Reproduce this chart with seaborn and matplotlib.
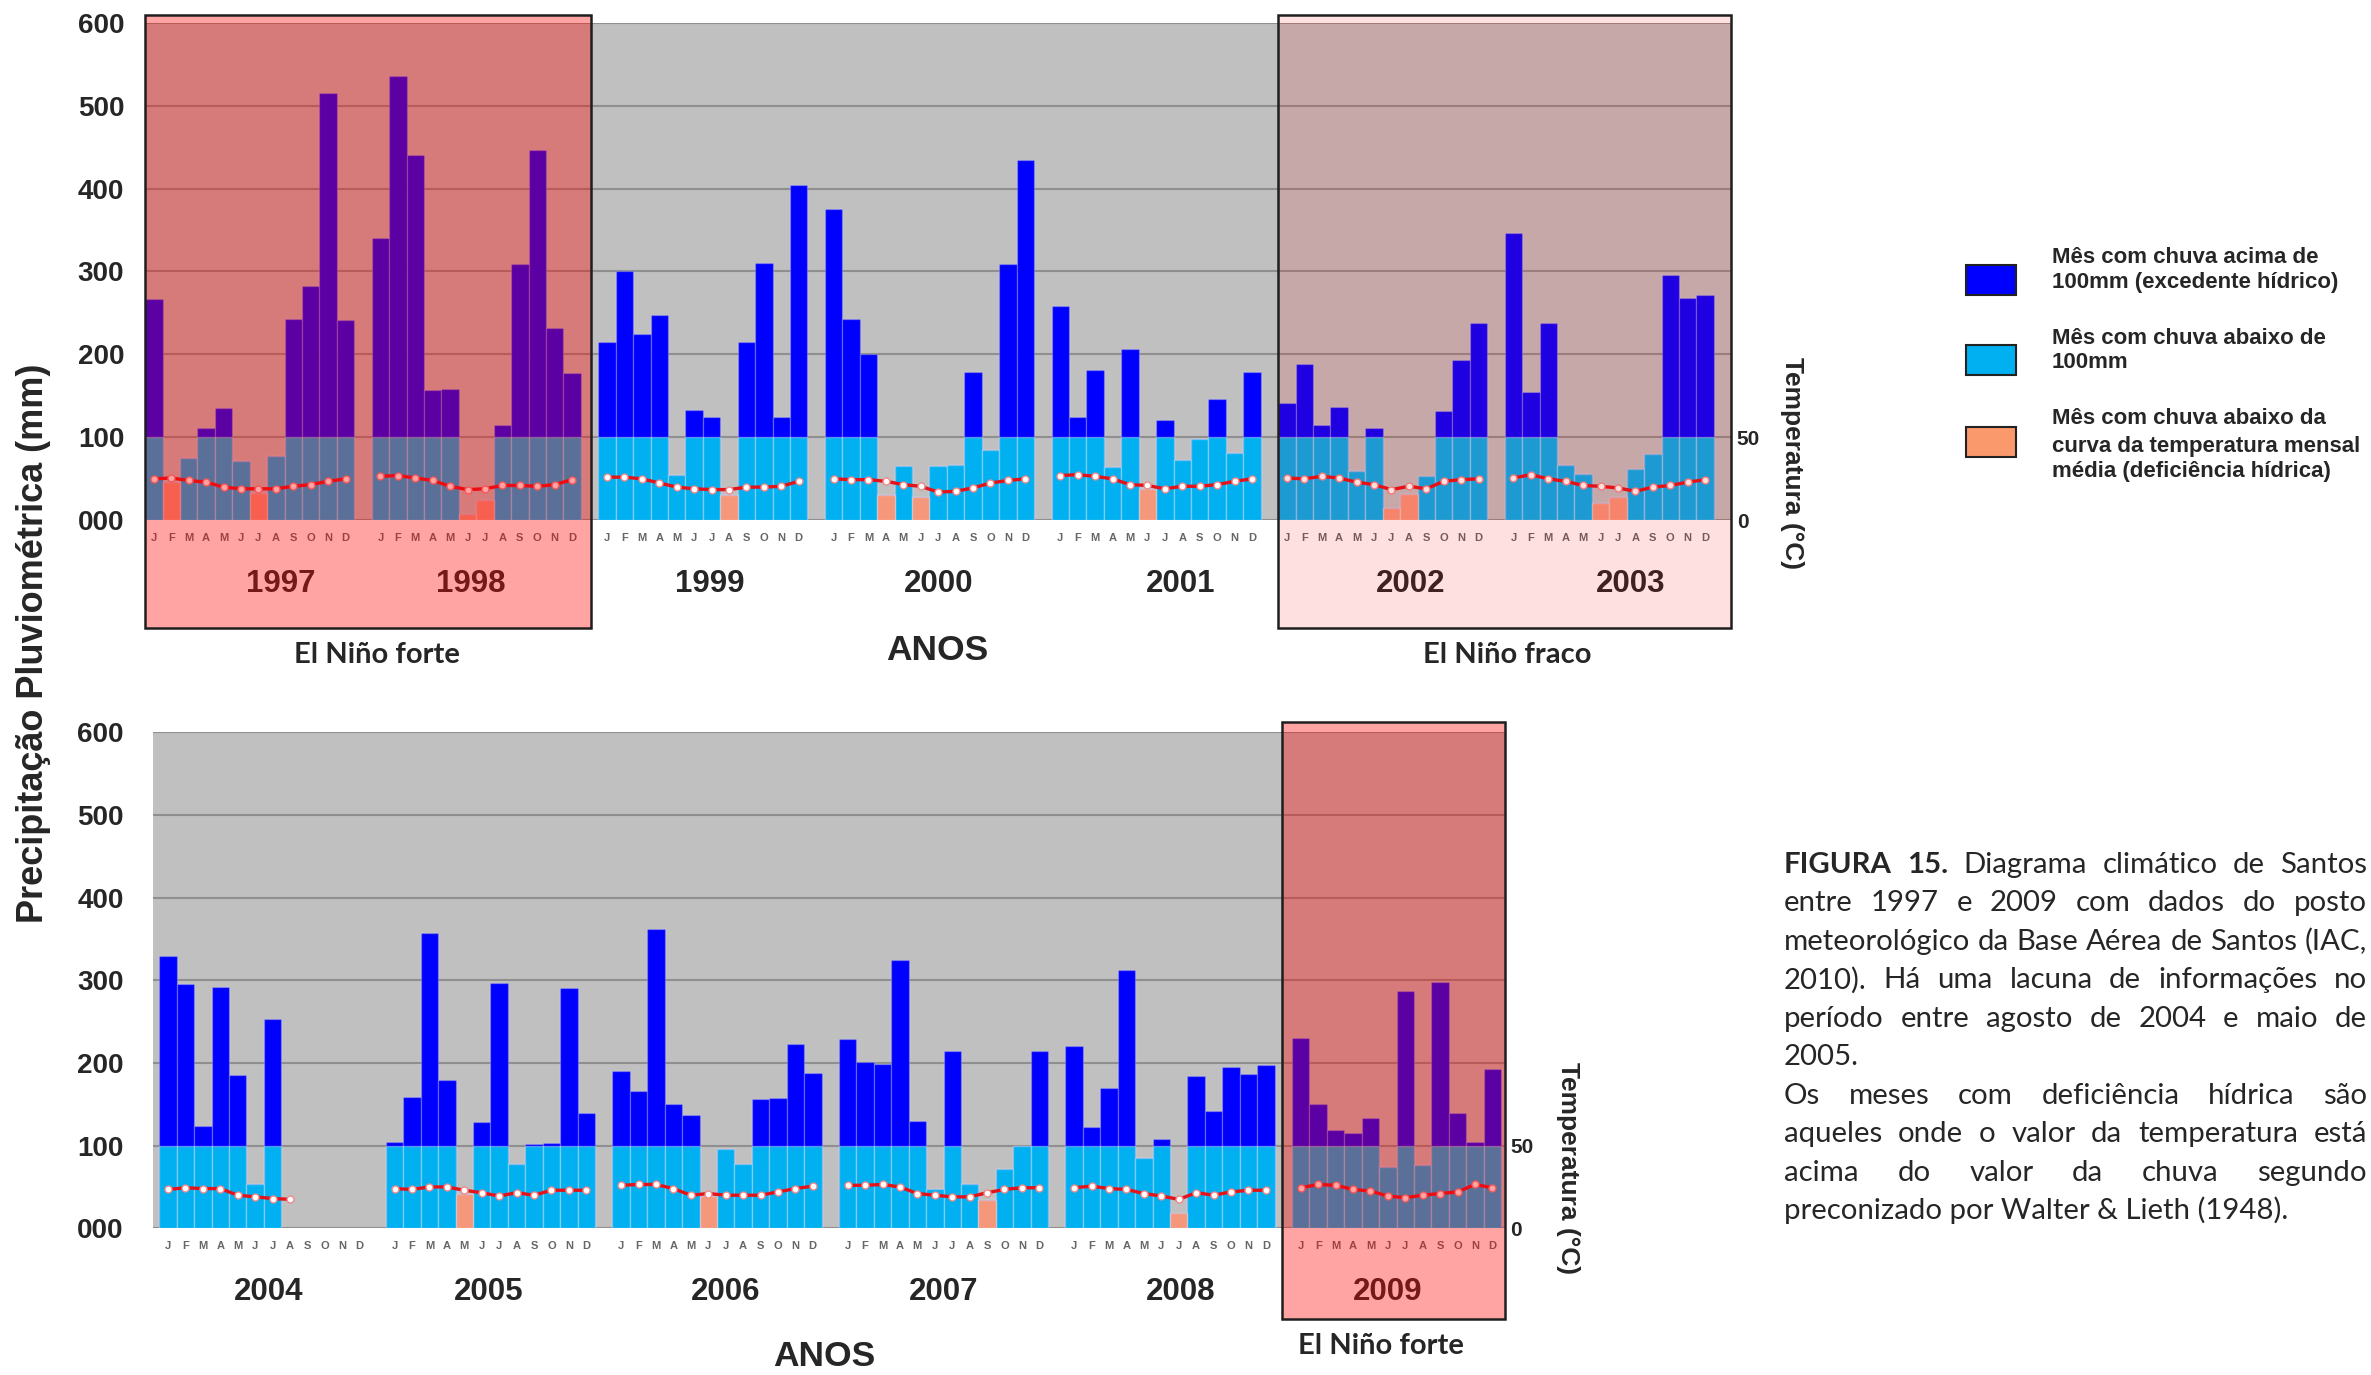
import matplotlib
matplotlib.use("Agg")
import matplotlib.pyplot as plt
import matplotlib.transforms as mtransforms
from matplotlib.patches import Rectangle
import seaborn as sns
import pandas as pd
import numpy as np

W, H = 2371, 1375

months = ['J', 'F', 'M', 'A', 'M', 'J', 'J', 'A', 'S', 'O', 'N', 'D']

# chuva mensal (mm), painel superior
years_top = [1997, 1998, 1999, 2000, 2001, 2002, 2003]
rain_1997 = [267, 46, 75, 111, 136, 72, 33, 78, 243, 283, 515, 241]
rain_1998 = [340, 536, 440, 157, 158, 8, 24, 115, 309, 447, 232, 178]
rain_1999 = [215, 300, 225, 248, 55, 133, 125, 30, 215, 310, 124, 404]
rain_2000 = [375, 243, 201, 31, 66, 28, 65, 67, 179, 85, 309, 435]
rain_2001 = [258, 124, 181, 64, 207, 38, 121, 73, 98, 146, 81, 179]
rain_2002 = [142, 189, 115, 137, 60, 111, 15, 32, 53, 132, 193, 238]
rain_2003 = [347, 155, 238, 67, 56, 21, 28, 62, 80, 296, 268, 272]

# temperatura media mensal (C), painel superior
temp_1997 = [25, 25.5, 24, 23, 20, 19, 19, 19, 20.5, 21.5, 23.5, 25]
temp_1998 = [26.5, 27, 25.5, 24, 20.5, 18.5, 19, 21, 21, 20.5, 21.5, 24.5]
temp_1999 = [26, 26, 25, 22.5, 20, 19, 18.5, 18.5, 20, 20, 20.5, 23.5]
temp_2000 = [25, 24.5, 24.5, 23.5, 21.5, 20.5, 17, 17.5, 19.5, 22.5, 24, 25]
temp_2001 = [27, 27.5, 26.5, 25, 21.5, 21, 19, 20.5, 20.5, 21.5, 23.5, 25]
temp_2002 = [25.5, 25, 26.5, 25.5, 23, 21.5, 18.5, 20.5, 19, 23.5, 24.5, 25]
temp_2003 = [25.5, 27.5, 25, 23.5, 21, 20.5, 19.5, 17.5, 20, 21, 23, 24.5]

# painel inferior (lacuna ago-dez 2004)
years_bottom = [2004, 2005, 2006, 2007, 2008, 2009]
rain_2004 = [329, 295, 124, 292, 185, 53, 253, np.nan, np.nan, np.nan, np.nan, np.nan]
rain_2005 = [104, 159, 357, 179, 42, 128, 297, 78, 102, 103, 291, 140]
rain_2006 = [190, 166, 362, 150, 137, 39, 96, 78, 156, 158, 223, 188]
rain_2007 = [229, 201, 199, 324, 130, 48, 214, 53, 34, 72, 99, 214]
rain_2008 = [221, 122, 170, 312, 85, 108, 18, 184, 142, 195, 186, 197]
rain_2009 = [230, 150, 119, 115, 133, 74, 287, 76, 298, 139, 104, 193]

temp_2004 = [23.5, 24.5, 24, 24, 20, 19, 18, 17.5, np.nan, np.nan, np.nan, np.nan]
temp_2005 = [24, 23.5, 25, 25, 23, 21.5, 19.5, 21.5, 20, 23, 23, 23]
temp_2006 = [26, 26.5, 26.5, 24, 20, 21, 20, 20, 20, 22, 24, 25.5]
temp_2007 = [26, 26, 26.5, 25, 21, 20, 19, 19, 21.5, 23.5, 24.5, 24.5]
temp_2008 = [24.5, 25.5, 24, 23.5, 21, 19.5, 17.5, 21.5, 20, 22, 23, 23]
temp_2009 = [24.5, 26.5, 26, 23.5, 22.5, 19.5, 18.5, 20, 21, 22, 26.5, 24.5]

rain_top = [rain_1997, rain_1998, rain_1999, rain_2000, rain_2001, rain_2002, rain_2003]
temp_top = [temp_1997, temp_1998, temp_1999, temp_2000, temp_2001, temp_2002, temp_2003]
rain_bottom = [rain_2004, rain_2005, rain_2006, rain_2007, rain_2008, rain_2009]
temp_bottom = [temp_2004, temp_2005, temp_2006, temp_2007, temp_2008, temp_2009]

# onde fica o rotulo de cada ano (em unidades de barra)
year_label_x_top = [7.3, 18.2, 31.9, 45.0, 58.9, 72.1, 84.7]
year_label_x_bottom = [5.8, 18.4, 32.0, 44.5, 58.1, 70.0]

BLUE = '#0000FF'
LIGHT = '#00B0F0'
ORANGE = '#F4977A'
GREY = '#C0C0C0'
RED_LINE = '#E3131B'


def build_frame(years, rains, temps):
    rows = []
    for k, yr in enumerate(years):
        for m in range(12):
            rows.append({'year': yr, 'pos': 13 * k + m, 'month': months[m],
                         'rain': rains[k][m], 'temp': temps[k][m]})
    df = pd.DataFrame(rows)
    df['temp_mm'] = df['temp'] * 2
    df['low'] = df['rain'].clip(upper=100)
    df['kind'] = np.where(df['rain'] < df['temp_mm'], 'deficit', 'normal')
    return df


def draw_panel(ax, df, years, label_x, xlim, ypad):
    ax.set_facecolor(GREY)
    bars = df.dropna(subset=['rain'])
    sns.barplot(data=bars, x='pos', y='rain', native_scale=True, width=1,
                color=BLUE, saturation=1, errorbar=None,
                edgecolor=(1, 1, 1, 0.2), linewidth=1, ax=ax)
    sns.barplot(data=bars, x='pos', y='low', hue='kind',
                palette={'normal': LIGHT, 'deficit': ORANGE},
                native_scale=True, width=1, saturation=1, errorbar=None,
                dodge=False, legend=False,
                edgecolor=(1, 1, 1, 0.35), linewidth=1, ax=ax)
    ax.set_ylim(0, 600)
    ax.set_yticks(range(0, 601, 100))
    ax.set_yticklabels(['%03d' % v for v in range(0, 601, 100)],
                       fontsize=20, fontweight='bold')
    ax.set_xticks(df['pos'])
    ax.set_xticklabels(df['month'], fontsize=8, fontweight='bold', color='#666666')
    ax.tick_params(axis='both', length=0)
    ax.tick_params(axis='y', pad=ypad)
    ax.tick_params(axis='x', pad=9)
    ax.yaxis.grid(True, color='#8F8F8F', lw=1.5)
    ax.set_axisbelow(True)
    ax.set_xlabel('')
    ax.set_ylabel('')
    for s in ax.spines.values():
        s.set_visible(False)

    tr = mtransforms.blended_transform_factory(ax.transData, ax.transAxes)
    for yr, lx in zip(years, label_x):
        ax.text(lx, -0.128, str(yr), transform=tr, ha='center',
                va='center', fontsize=22.5, fontweight='bold')

    ax2 = ax.twinx()
    temps = df.dropna(subset=['temp'])
    sns.lineplot(data=temps, x='pos', y='temp', units='year', estimator=None,
                 color=RED_LINE, linewidth=2.4, marker='o', markersize=5,
                 markerfacecolor='white', markeredgecolor='#F08A8A',
                 markeredgewidth=1, ax=ax2)
    ax2.set_ylim(0, 300)
    ax2.set_yticks([0, 50])
    ax2.set_yticklabels(['0', '50'], fontsize=15, fontweight='bold')
    ax2.tick_params(length=0, pad=4)
    ax2.set_ylabel('')
    for s in ax2.spines.values():
        s.set_visible(False)
    ax.set_xlim(*xlim)
    return ax2


sns.set_theme(style="white")
plt.rcParams['font.family'] = ['Liberation Sans', 'DejaVu Sans']

fig = plt.figure(figsize=(W / 100, H / 100), dpi=100)

df_top = build_frame(years_top, rain_top, temp_top)
df_bot = build_frame(years_bottom, rain_bottom, temp_bottom)

ax_top = fig.add_axes([0.0612, 0.6216, 0.6690, 0.3619])
ax_bot = fig.add_axes([0.0644, 0.1067, 0.5702, 0.3608])
draw_panel(ax_top, df_top, years_top, year_label_x_top, (-0.5, 90.5), 15)
draw_panel(ax_bot, df_bot, years_bottom, year_label_x_bottom, (-0.88, 76.7), 21)


def el_nino_box(ax, x0, x1, fy0, fy1, alpha):
    tr = mtransforms.blended_transform_factory(ax.transData, fig.transFigure)
    fig.add_artist(Rectangle((x0, fy0), x1 - x0, fy1 - fy0, transform=tr,
                             facecolor=(1, 0, 0, alpha), edgecolor='#1e1e1e',
                             lw=1.8, zorder=10))


el_nino_box(ax_top, -0.5, 25.1, 0.5435, 0.989, 0.36)
el_nino_box(ax_top, 64.5, 90.5, 0.5435, 0.989, 0.12)
el_nino_box(ax_bot, 63.9, 76.7, 0.0407, 0.4752, 0.36)

# textos
fig.text(0.0140, 0.532, 'Precipitação Pluviométrica (mm)', rotation=90,
         ha='center', va='center', fontsize=26, fontweight='bold')
fig.text(0.3954, 0.527, 'ANOS', ha='center', va='center', fontsize=25.5, fontweight='bold')
fig.text(0.3476, 0.0132, 'ANOS', ha='center', va='center', fontsize=25.5, fontweight='bold')
fig.text(0.1588, 0.5237, 'El Niño forte', ha='center', va='center', fontsize=21,
         fontweight='bold', family='Lato')
fig.text(0.6358, 0.5237, 'El Niño fraco', ha='center', va='center', fontsize=21,
         fontweight='bold', family='Lato')
fig.text(0.5823, 0.0209, 'El Niño forte', ha='center', va='center', fontsize=21,
         fontweight='bold', family='Lato')
fig.text(0.7557, 0.6634, 'Temperatura (°C)', rotation=270, ha='center', va='center',
         fontsize=19, fontweight='bold')
fig.text(0.6614, 0.1507, 'Temperatura (°C)', rotation=270, ha='center', va='center',
         fontsize=19, fontweight='bold')

# legenda
legend_items = [
    (BLUE, ['Mês com chuva acima de', '100mm (excedente hídrico)']),
    (LIGHT, ['Mês com chuva abaixo de', '100mm']),
    ('#FA9A6C', ['Mês com chuva abaixo da', 'curva da temperatura mensal',
                 'média (deficiência hídrica)']),
]
sw_y = [0.7855, 0.7272, 0.6678]
txt_y = [[0.8130, 0.7943], [0.7536, 0.7360], [0.6953, 0.6755, 0.6568]]
for (col, lines), y0, ys in zip(legend_items, sw_y, txt_y):
    fig.add_artist(Rectangle((0.8291, y0), 0.021, 0.022, transform=fig.transFigure,
                             facecolor=col, edgecolor='#222222', lw=1.5))
    for ln, yy in zip(lines, ys):
        fig.text(0.8654, yy, ln, ha='left', va='center', fontsize=16, fontweight='bold')

# legenda da figura, texto justificado
cap_lines = [
    ('FIGURA 15. Diagrama climático de Santos', True),
    ('entre 1997 e 2009 com dados do posto', True),
    ('meteorológico da Base Aérea de Santos (IAC,', True),
    ('2010). Há uma lacuna de informações no', True),
    ('período entre agosto de 2004 e maio de', True),
    ('2005.', False),
    ('Os meses com deficiência hídrica são', True),
    ('aqueles onde o valor da temperatura está', True),
    ('acima do valor da chuva segundo', True),
    ('preconizado por Walter & Lieth (1948).', False),
]
renderer = fig.canvas.get_renderer()
cap_x0, cap_x1 = 1784 / W, 2367 / W
probe = fig.text(0, 0, cap_lines[2][0], fontsize=20, family='Lato')
probe_w = probe.get_window_extent(renderer).width
probe.remove()
cap_size = 20 * (cap_x1 - cap_x0) * W / probe_w

for i, (line, justify) in enumerate(cap_lines):
    y = 1 - (577 + 25.44 * i) / 909
    if not justify:
        fig.text(cap_x0, y, line, fontsize=cap_size, family='Lato', va='baseline')
        continue
    words = line.split(' ')
    objs = []
    for j, w in enumerate(words):
        bold = (i == 0 and j < 2)
        objs.append(fig.text(0, y, w, fontsize=cap_size, family='Lato', va='baseline',
                             fontweight='bold' if bold else 'normal'))
    widths = [t.get_window_extent(renderer).width / W for t in objs]
    gap = (cap_x1 - cap_x0 - sum(widths)) / (len(words) - 1)
    x = cap_x0
    for t, wd in zip(objs, widths):
        t.set_x(x)
        x += wd + gap

fig.savefig('out.png', dpi=100)
